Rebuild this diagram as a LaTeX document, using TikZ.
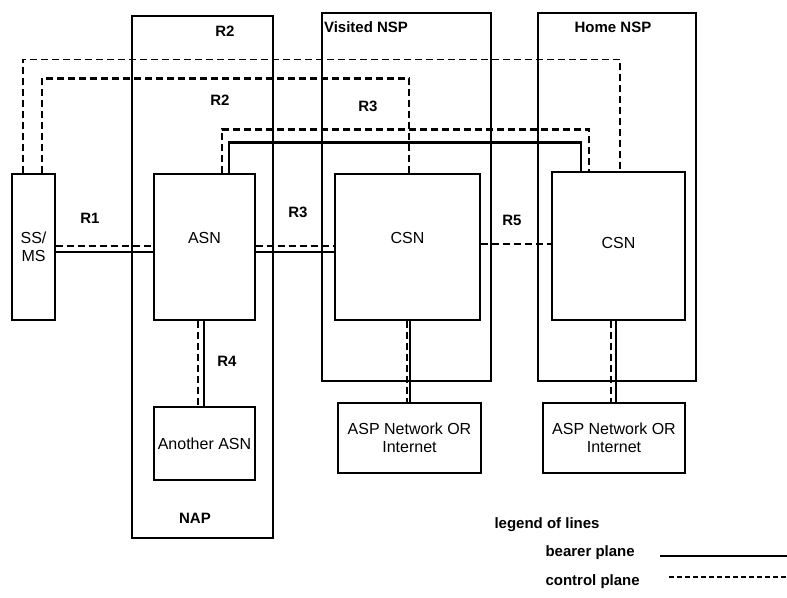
\documentclass[tikz,border=0pt]{standalone}
\usepackage{fontspec}
\setmainfont{Liberation Sans}
\begin{document}
\begin{tikzpicture}[
  x=1pt, y=-1pt,
  font=\fontsize{16}{18}\selectfont,
  box/.style={draw, line width=1.2pt, align=center, inner sep=0pt},
  area/.style={draw, line width=1.2pt, inner sep=0pt},
  tag/.style={font=\fontsize{15}{18}\selectfont\bfseries},
  bearer/.style={line width=2.2pt},
  ctrl/.style={line width=1.4pt, dash pattern=on 7pt off 4pt},
  ctrlthick/.style={line width=2.4pt, dash pattern=on 7pt off 4pt}
]
\useasboundingbox (0,0) rectangle (787,597);

\node[area, minimum width=141pt, minimum height=522pt] (nap) at (202.5,277) {};
\node[area, minimum width=169pt, minimum height=368pt] (visited) at (406.5,197) {};
\node[area, minimum width=158pt, minimum height=368pt] (home) at (617,197) {};

\node[box, minimum width=43pt, minimum height=146pt] (ssms) at (33.5,247) {SS/\\MS};
\node[box, minimum width=101pt, minimum height=146pt, text depth=18pt] (asn) at (204.5,247) {ASN};
\node[box, minimum width=145pt, minimum height=146pt, text depth=18pt] (vcsn) at (407.5,247) {CSN};
\node[box, minimum width=133pt, minimum height=148pt, text depth=6pt] (hcsn) at (618.5,246) {CSN};
\node[box, minimum width=101pt, minimum height=73pt] (another) at (204.5,443.5) {Another ASN};
\node[box, minimum width=143pt, minimum height=70pt] (asp1) at (409.5,438) {ASP Network OR\\Internet};
\node[box, minimum width=142pt, minimum height=70pt] (asp2) at (614,438) {ASP Network OR\\Internet};

\node[tag] (vnsp) at (366,27) {Visited NSP};
\node[tag] (hnsp) at (613,27) {Home NSP};
\node[tag] (naplbl) at (195,518) {NAP};
\node[tag] (r2top) at (225,31) {R2};
\node[tag] (r2) at (220,100) {R2};
\node[tag] (r3top) at (368,106) {R3};
\node[tag] (r1) at (90,218) {R1};
\node[tag] (r3) at (298,212) {R3};
\node[tag] (r5) at (512,220) {R5};
\node[tag] (r4) at (227,361) {R4};

\draw[ctrl] ([xshift=-10.5pt]ssms.north) -- ++(0,-114) -| ([xshift=1.5pt]hcsn.north);
\draw[ctrlthick] ([xshift=8.5pt]ssms.north) -- ++(0,-95) -| ([xshift=1.5pt]vcsn.north);
\draw[ctrlthick] ([xshift=17.5pt]asn.north) -- ++(0,-44) -| ([xshift=-29.5pt]hcsn.north);
\draw[bearer] ([xshift=24.5pt]asn.north) -- ++(0,-31) -| ([xshift=-37.5pt]hcsn.north);

\draw[ctrl] ([yshift=1pt]ssms.east) -- ([yshift=1pt]asn.west);
\draw[bearer] ([yshift=-5pt]ssms.east) -- ([yshift=-5pt]asn.west);
\draw[ctrl] ([yshift=1pt]asn.east) -- ([yshift=1pt]vcsn.west);
\draw[bearer] ([yshift=-5pt]asn.east) -- ([yshift=-5pt]vcsn.west);
\draw[ctrl] ([yshift=3pt]vcsn.east) -- ([yshift=2pt]hcsn.west);

\draw[ctrl] ([xshift=-6.5pt]asn.south) -- ([xshift=-6.5pt]another.north);
\draw[bearer] ([xshift=-0.5pt]asn.south) -- ([xshift=-0.5pt]another.north);
\draw[ctrl] ([xshift=-0.5pt]vcsn.south) -- ([xshift=-0.5pt]vcsn.south |- asp1.north);
\draw[bearer] ([xshift=2.5pt]vcsn.south) -- ([xshift=2.5pt]vcsn.south |- asp1.north);
\draw[ctrlthick] ([xshift=-7.5pt]hcsn.south) -- ([xshift=-7.5pt]hcsn.south |- asp2.north);
\draw[bearer] ([xshift=-2.5pt]hcsn.south) -- ([xshift=-2.5pt]hcsn.south |- asp2.north);

\node[tag, anchor=west] (legend) at (491,525) {legend of lines};
\node[tag, anchor=west] (bearerlbl) at (542,553) {bearer plane};
\node[tag, anchor=west] (ctrllbl) at (542,582) {control plane};
\coordinate (bearerend) at (787,556);
\coordinate (ctrlend) at (787,577);
\draw[line width=1.6pt] ([xshift=22pt]bearerlbl.east |- bearerend) -- (bearerend);
\draw[line width=1.3pt, dash pattern=on 5pt off 3pt] ([xshift=26pt]ctrllbl.east |- ctrlend) -- (ctrlend);
\end{tikzpicture}
\end{document}
